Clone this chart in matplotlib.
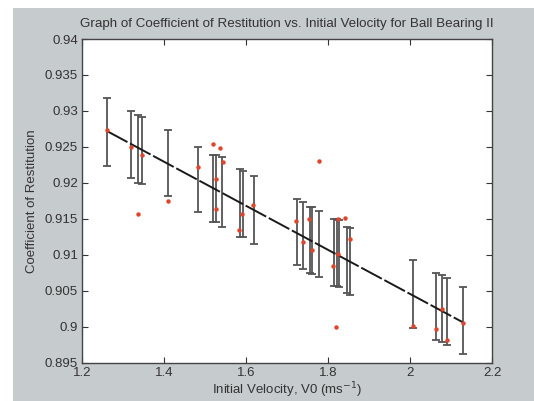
import matplotlib
matplotlib.use("Agg")
import matplotlib.pyplot as plt
from matplotlib.patches import Rectangle

# measured points (initial velocity, coefficient of restitution)
v0 = [1.260, 1.319, 1.335, 1.345, 1.408, 1.481, 1.520, 1.537, 1.542, 1.526,
      1.526, 1.583, 1.590, 1.617, 1.721, 1.738, 1.752, 1.760, 1.777, 1.811,
      1.824, 1.824, 1.841, 1.853, 1.818, 2.006, 2.063, 2.077, 2.089, 2.128]
cor = [0.9273, 0.9250, 0.9156, 0.9238, 0.9175, 0.9222, 0.9254, 0.9249, 0.9229, 0.9205,
       0.9163, 0.9135, 0.9156, 0.9169, 0.9147, 0.9117, 0.9150, 0.9107, 0.9231, 0.9084,
       0.9101, 0.9150, 0.9151, 0.9122, 0.9000, 0.9001, 0.8997, 0.9024, 0.8981, 0.9005]

# error bars drawn about the fitted line
bar_x = [1.260, 1.320, 1.337, 1.346, 1.408, 1.481, 1.520, 1.525, 1.540, 1.585,
         1.591, 1.618, 1.723, 1.738, 1.755, 1.761, 1.777, 1.814, 1.821, 1.825,
         1.845, 1.853, 2.006, 2.063, 2.077, 2.089, 2.128]
bar_hi = [0.9318, 0.9300, 0.9294, 0.9291, 0.9274, 0.9250, 0.9238, 0.9238, 0.9236, 0.9219,
          0.9217, 0.9209, 0.9177, 0.9173, 0.9167, 0.9166, 0.9161, 0.9150, 0.9149, 0.9148,
          0.9139, 0.9137, 0.9092, 0.9075, 0.9072, 0.9068, 0.9055]
bar_lo = [0.9224, 0.9207, 0.9200, 0.9199, 0.9181, 0.9159, 0.9146, 0.9145, 0.9139, 0.9125,
          0.9125, 0.9115, 0.9085, 0.9080, 0.9075, 0.9073, 0.9069, 0.9057, 0.9056, 0.9055,
          0.9047, 0.9044, 0.8998, 0.8982, 0.8978, 0.8974, 0.8962]

# fitted line end points
fit_x = [1.260, 2.128]
fit_y = [0.9272, 0.9006]

plt.rcParams["font.family"] = ["Liberation Sans", "DejaVu Sans"]

fig = plt.figure(figsize=(5.34, 4.01), dpi=100, facecolor="white")
bg = Rectangle((13 / 534, 0), 1, 1 - 8 / 401, transform=fig.transFigure,
               facecolor="#c6cbce", edgecolor="none", zorder=-10)
fig.add_artist(bg)

ax = fig.add_axes([0.1541, 0.096, 0.7678, 0.8067])
ax.set_zorder(1)
ax.set_facecolor("white")

centers = [(h + l) / 2 for h, l in zip(bar_hi, bar_lo)]
halves = [(h - l) / 2 for h, l in zip(bar_hi, bar_lo)]
ax.errorbar(bar_x, centers, yerr=halves, fmt="none", ecolor="#555555",
            elinewidth=1.3, capsize=2.7, capthick=1.3, zorder=2)
ax.plot(fit_x, fit_y, color="#1a1a1a", lw=1.4, dashes=(12, 1.5), zorder=3)
ax.plot(v0, cor, "o", color="#e0442a", ms=3.2, mec="none", zorder=4)

ax.set_xlim(1.2, 2.2)
ax.set_ylim(0.895, 0.94)
ax.set_xticks([1.2, 1.4, 1.6, 1.8, 2.0, 2.2])
ax.set_xticklabels(["1.2", "1.4", "1.6", "1.8", "2", "2.2"])
ax.set_yticks([0.895, 0.9, 0.905, 0.91, 0.915, 0.92, 0.925, 0.93, 0.935, 0.94])
ax.set_yticklabels(["0.895", "0.9", "0.905", "0.91", "0.915", "0.92", "0.925",
                    "0.93", "0.935", "0.94"])
ax.tick_params(direction="in", top=True, right=True, length=4, width=0.8,
               labelsize=9.5, colors="#333333", pad=3)
for s in ax.spines.values():
    s.set_color("#444444")
    s.set_linewidth(1.0)

ax.set_title("Graph of Coefficient of Restitution vs. Initial Velocity for Ball Bearing II",
             fontsize=9.6, color="#333333", pad=9)
ax.set_xlabel("Initial Velocity, V0 (ms$^{-1}$)", fontsize=9.5, color="#333333", labelpad=1)
ax.set_ylabel("Coefficient of Restitution", fontsize=9.5, color="#333333", labelpad=5)

fig.savefig("out.png", dpi=100, facecolor=fig.get_facecolor())
